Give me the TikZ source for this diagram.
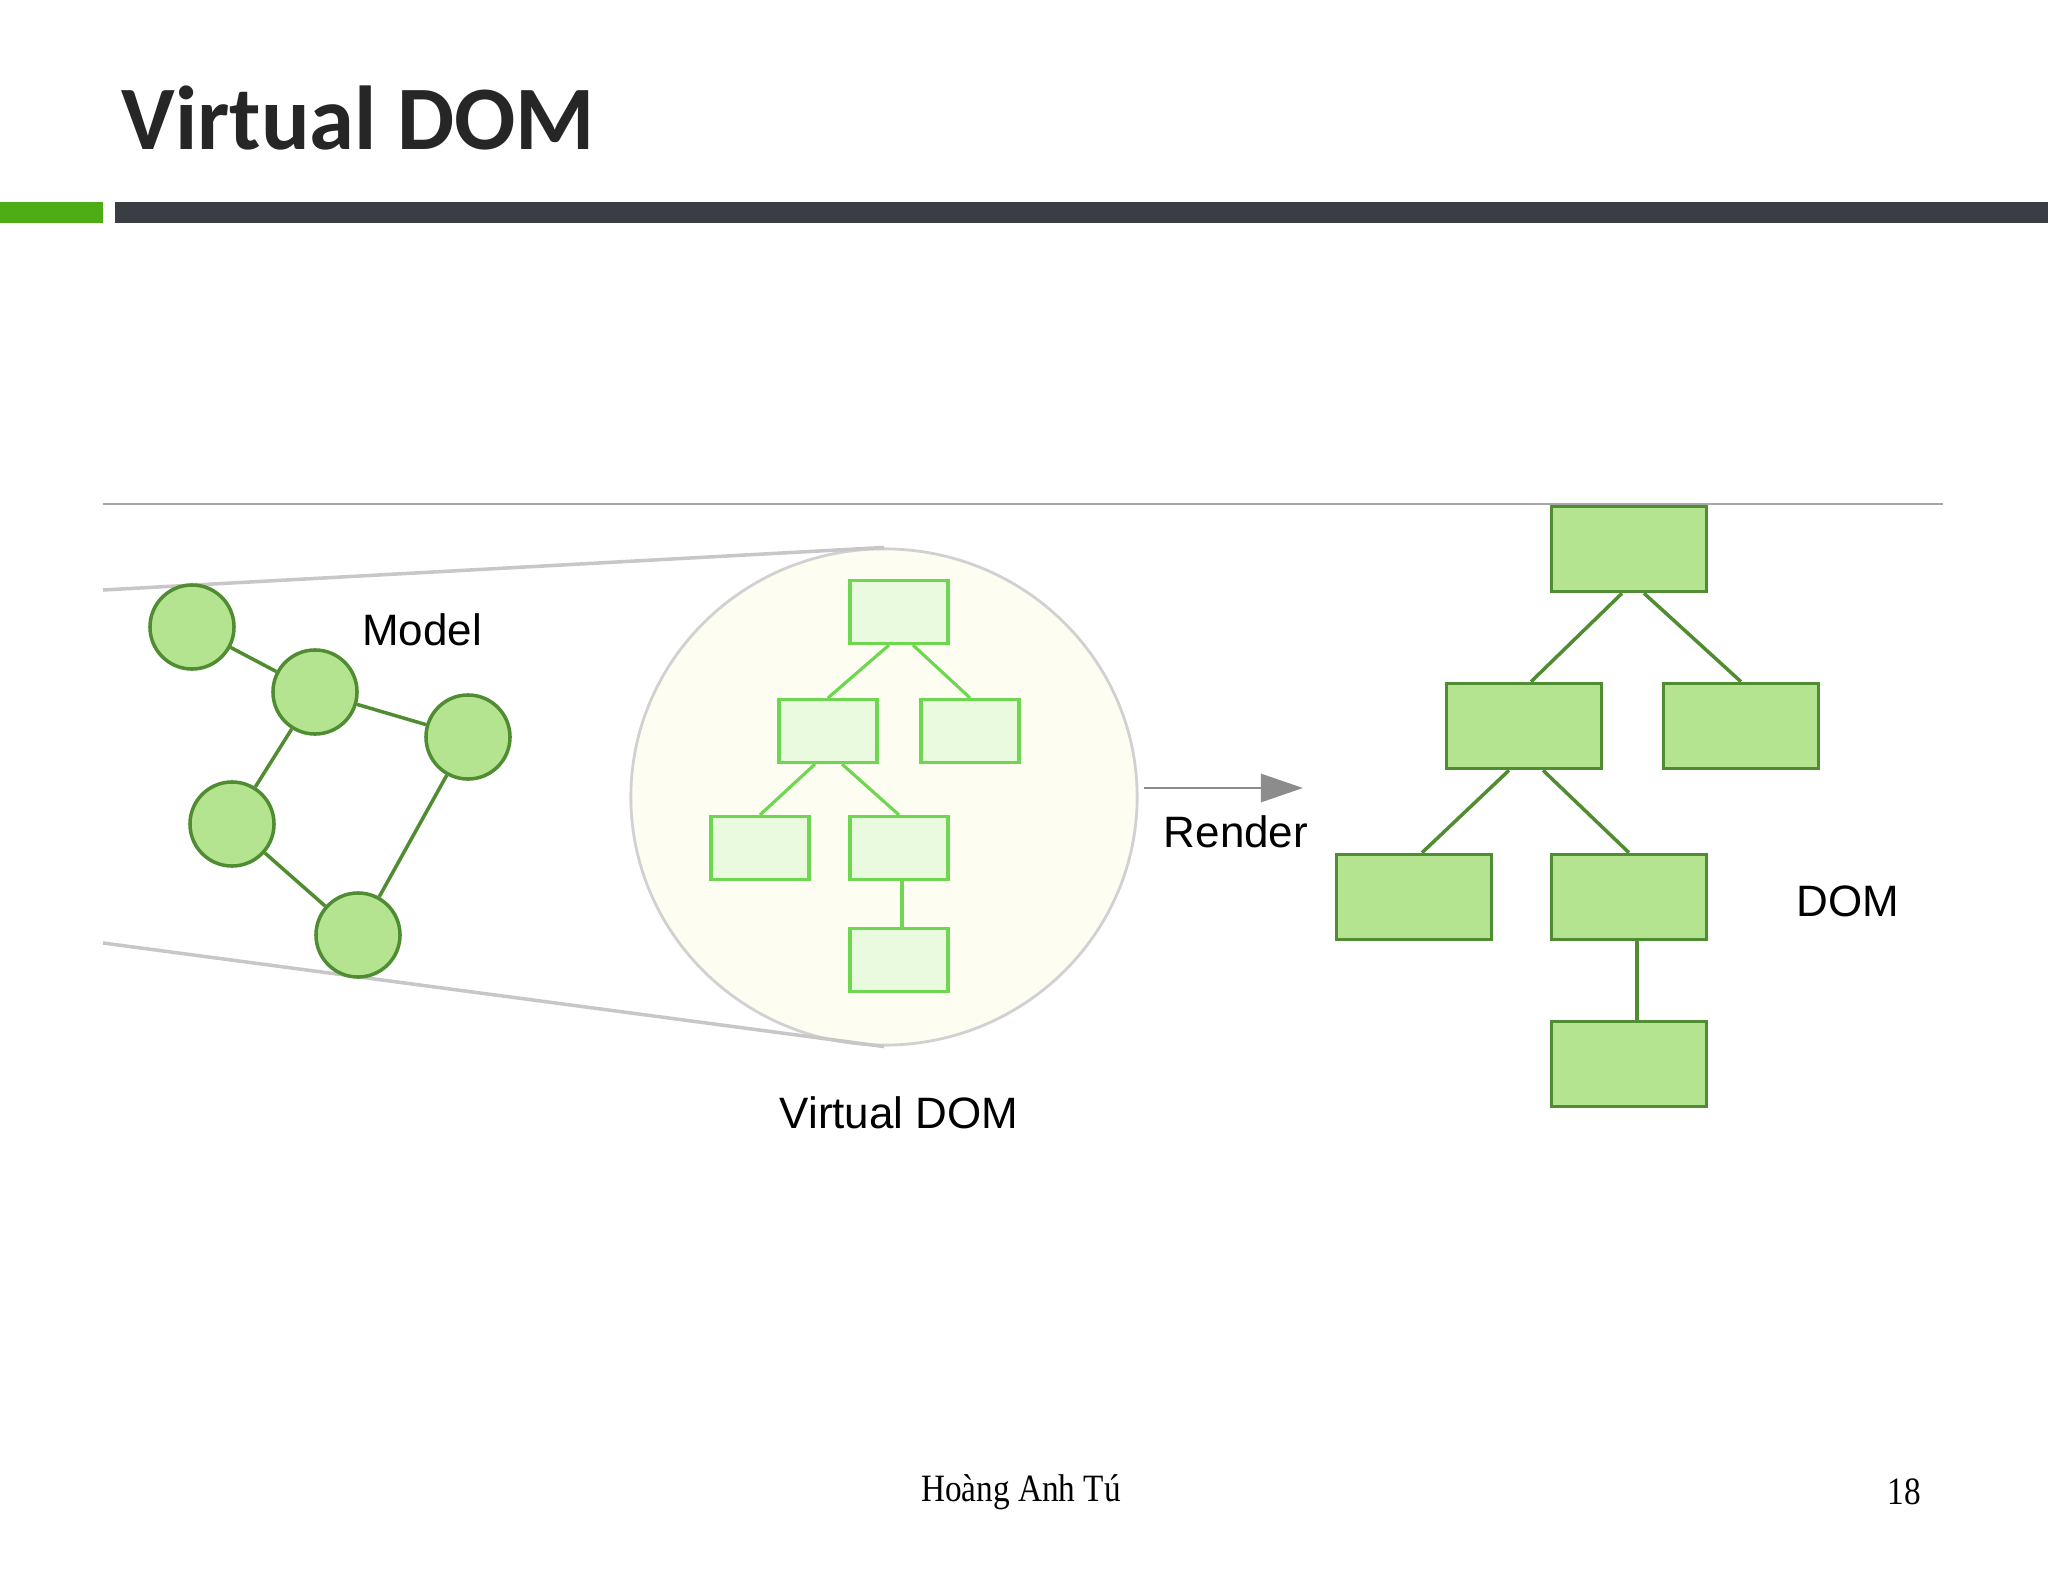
\documentclass[tikz,border=0pt]{standalone}
\usepackage{fontspec}
\setmainfont{Liberation Serif}
\newfontfamily\titlefont{Carlito}
\newfontfamily\labelfont{Liberation Sans}
\newfontfamily\footfont[FakeStretch=0.86]{Liberation Serif}
\usetikzlibrary{arrows.meta, calc, shapes.geometric}

\definecolor{leafgreen}{RGB}{181,228,145}
\definecolor{leafedge}{RGB}{80,140,50}
\definecolor{vfill}{RGB}{234,250,222}
\definecolor{vedge}{RGB}{110,214,80}
\definecolor{lensfill}{RGB}{253,253,242}
\definecolor{bargreen}{RGB}{78,172,20}
\definecolor{bardark}{RGB}{58,61,68}

\begin{document}
\begin{tikzpicture}[x=0.01cm, y=-0.01cm, thick,
	modelnode/.style={circle, draw=leafedge, fill=leafgreen, line width=1pt, minimum size=0.84cm, inner sep=0pt},
	vbox/.style={rectangle, draw=vedge, fill=vfill, line width=0.9pt, minimum width=0.98cm, minimum height=0.63cm, inner sep=0pt},
	dbox/.style={rectangle, draw=leafedge, fill=leafgreen, line width=1pt, minimum width=1.55cm, minimum height=0.85cm, inner sep=0pt},
	vlink/.style={draw=vedge, line width=0.9pt},
	dlink/.style={draw=leafedge, line width=1pt},
	caption/.style={font=\labelfont\fontsize{12.5}{15}\selectfont, text=black}
	]
	
	% --- 0. Page frame ---
	\useasboundingbox[fill=white] (0,0) rectangle (2048,1582);
	
	% --- 1. Slide title and header bars ---
	\node[anchor=base west, inner sep=0pt, text=black!85, font=\titlefont\bfseries\fontsize{25.8}{30}\selectfont] (title) at (120,150) {Virtual DOM};
	\fill[bargreen] (0,202) rectangle (103,223);
	\fill[bardark] (115,202) rectangle (2048,223);
	
	% --- 2. Thin rule above the figure ---
	\draw[black!35, line width=0.5pt] (103,504) -- (1943,504);
	
	% --- 3. The lens (zoom onto the virtual DOM) ---
	\coordinate (funnelTop) at (103,590);
	\coordinate (funnelBot) at (103,943);
	\node[ellipse, draw=black!18, fill=lensfill, line width=0.8pt, minimum width=5.06cm, minimum height=4.96cm, inner sep=0pt] (lens) at (884,797) {};
	\draw[black!22, line width=1pt] (funnelTop) -- (lens.north);
	\draw[black!22, line width=1pt] (funnelBot) -- (lens.south);
	
	% --- 4. Model graph ---
	\foreach \name/\x/\y in {m1/192/627, m2/315/692, m3/468/737, m4/232/824, m5/358/935} {
		\node[modelnode] (\name) at (\x,\y) {};
	}
	\foreach \a/\b in {m1/m2, m2/m3, m2/m4, m4/m5, m3/m5} {
		\draw[dlink] (\a) -- (\b);
	}
	\node[caption] (modelLabel) at (422,630) {Model};
	
	% --- 5. Virtual DOM tree (inside the lens) ---
	\node[vbox] (v0) at (899,612) {};
	\node[vbox] (v1) at (828,731) {};
	\node[vbox] (v2) at (970,731) {};
	\node[vbox] (v3) at (760,848) {};
	\node[vbox] (v4) at (899,848) {};
	\node[vbox] (v5) at (899,960) {};
	\draw[vlink] ($(v0.south)+(-10,0)$) -- (v1.north);
	\draw[vlink] ($(v0.south)+(14,0)$) -- (v2.north);
	\draw[vlink] ($(v1.south)+(-13,0)$) -- (v3.north);
	\draw[vlink] ($(v1.south)+(14,0)$) -- (v4.north);
	\draw[vlink] ($(v4.south)+(3,0)$) -- ($(v5.north)+(3,0)$);
	\node[caption] (vdomLabel) at (899,1113) {Virtual DOM};
	
	% --- 6. Render arrow ---
	\coordinate (renderStart) at (1144,788);
	\coordinate (renderEnd) at (1303,788);
	\draw[black!45, line width=0.8pt, -{Triangle[length=12pt, width=8pt]}] (renderStart) -- (renderEnd);
	\node[caption] (renderLabel) at (1236,832) {Render};
	
	% --- 7. Real DOM tree ---
	\node[dbox] (d0) at (1629,549) {};
	\node[dbox] (d1) at (1524,726) {};
	\node[dbox] (d2) at (1741,726) {};
	\node[dbox] (d3) at (1414,897) {};
	\node[dbox] (d4) at (1629,897) {};
	\node[dbox] (d5) at (1629,1064) {};
	\draw[dlink] ($(d0.south)+(-7,0)$) -- ($(d1.north)+(7,0)$);
	\draw[dlink] ($(d0.south)+(15,0)$) -- (d2.north);
	\draw[dlink] ($(d1.south)+(-15,0)$) -- ($(d3.north)+(8,0)$);
	\draw[dlink] ($(d1.south)+(19,0)$) -- (d4.north);
	\draw[dlink] ($(d4.south)+(8,0)$) -- ($(d5.north)+(8,0)$);
	\node[caption] (domLabel) at (1848,901) {DOM};
	
	% --- 8. Footer ---
	\node[font=\footfont\fontsize{11}{13}\selectfont] (author) at (1021,1492) {Hoàng Anh Tú};
	\node[font=\footfont\fontsize{11}{13}\selectfont] (pageNo) at (1904,1492) {18};
	
\end{tikzpicture}
\end{document}
